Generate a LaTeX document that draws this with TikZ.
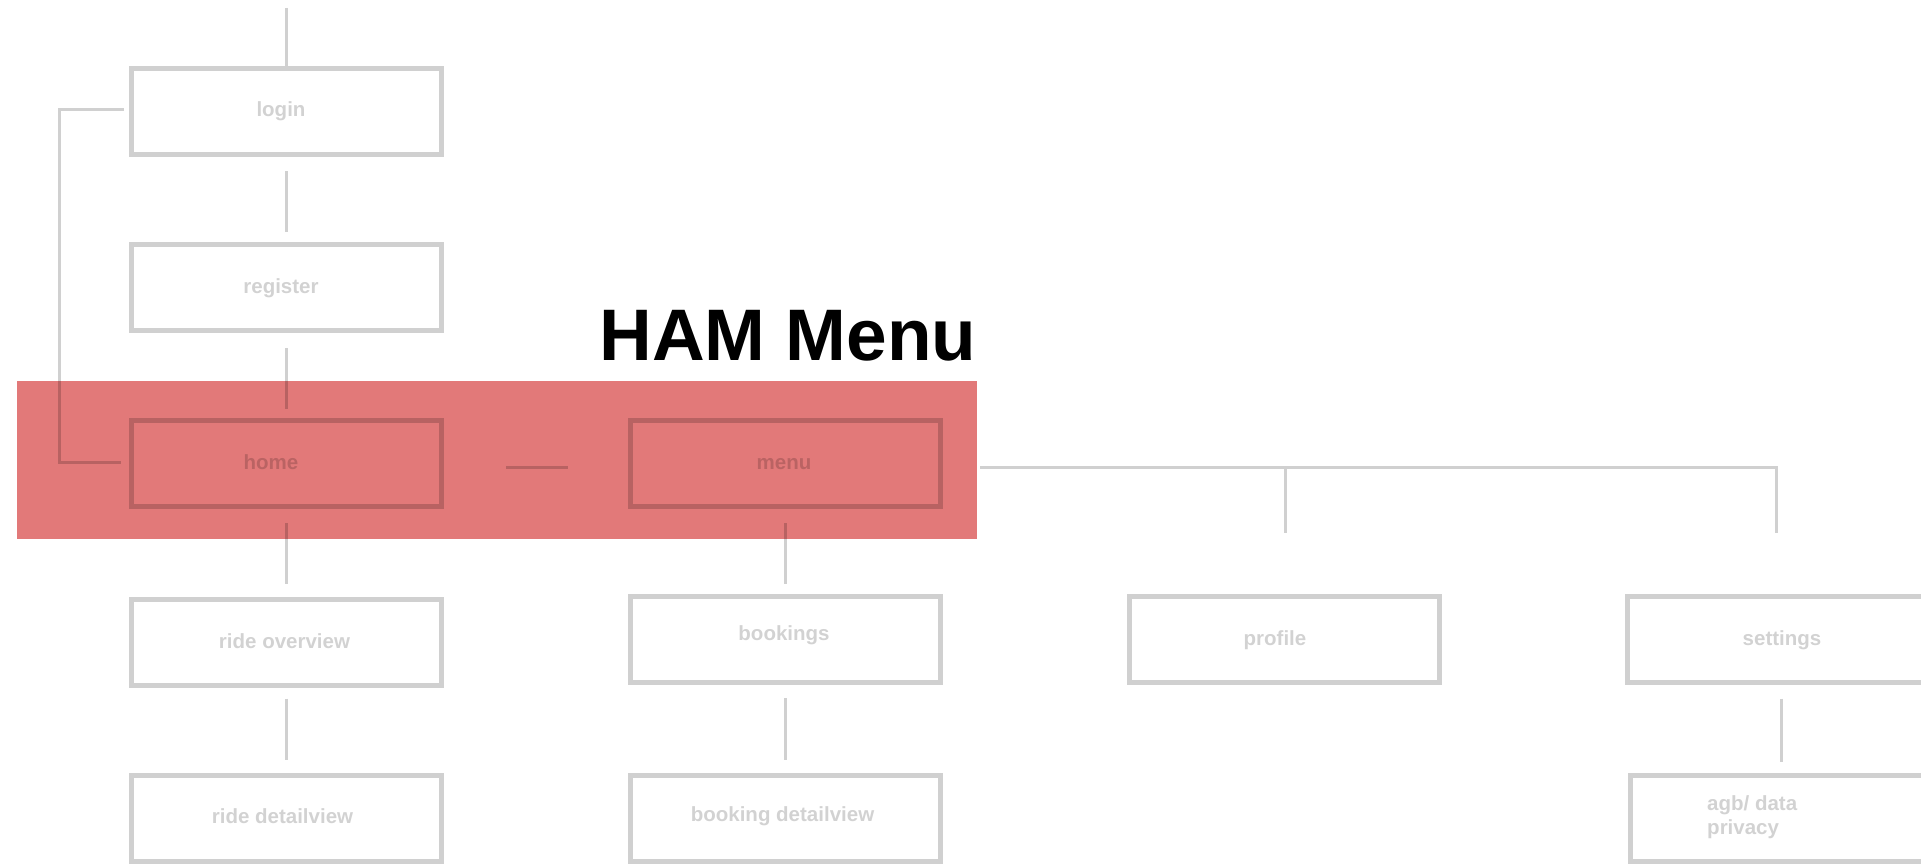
\documentclass[tikz,border=0pt]{standalone}
\usepackage{fontspec}
\setmainfont{Liberation Sans}
\definecolor{strokegray}{RGB}{208,208,208}
\definecolor{textgray}{RGB}{210,210,210}
\definecolor{bandred}{RGB}{226,121,121}
\begin{document}
\begin{tikzpicture}[x=1pt,y=-1pt,
  box/.style={draw=strokegray, line width=5pt, minimum width=310pt, minimum height=86pt, inner sep=0pt},
  lbl/.style={text=textgray, font=\fontsize{20.5}{24}\selectfont\bfseries, anchor=base, inner sep=0pt},
  conn/.style={draw=strokegray, line width=3pt},
  title/.style={font=\fontsize{73}{80}\selectfont\bfseries, text=black, anchor=base, inner sep=0pt}]
\useasboundingbox (0,0) rectangle (1921,864);
\clip (0,0) rectangle (1921,864);

% boxes
\node[box] (login)    at (286.5,111.5) {};
\node[box] (register) at (286.5,287.5) {};
\node[box] (home)     at (286.5,463.5) {};
\node[box] (rideov)   at (286.5,642.5) {};
\node[box] (ridedv)   at (286.5,818.5) {};
\node[box] (menu)     at (785.5,463.5) {};
\node[box] (bookings) at (785.5,639.5) {};
\node[box] (bookdv)   at (785.5,818.5) {};
\node[box] (profile)  at (1284,639.5) {};
\node[box] (settings) at (1782.5,639.5) {};
\node[box] (agb)      at (1785.5,818.5) {};

% labels
\node[lbl] (logint)    at (281,117) {login};
\node[lbl] (registert) at (281,293) {register};
\node[lbl] (homet)     at (271,469) {home};
\node[lbl] (rideovt)   at (284.5,648) {ride overview};
\node[lbl] (ridedvt)   at (282.5,823) {ride detailview};
\node[lbl] (menut)     at (784,469) {menu};
\node[lbl] (bookingst) at (784,640) {bookings};
\node[lbl] (bookdvt)   at (782.5,821) {booking detailview};
\node[lbl] (profilet)  at (1275,645) {profile};
\node[lbl] (settingst) at (1782,645) {settings};
\node[lbl, anchor=north west, align=left] (agbt) at (1707,795.5) {agb/ data\\privacy};

% title
\node[title] (hamtitle) at (788,360) {HAM Menu};

% connectors
\coordinate (topend) at (286.5,8);
\draw[conn, shorten >=-4pt] (topend) -- (login.north);
\draw[conn, shorten <=14pt, shorten >=10pt] (login.south) -- (register.north);
\draw[conn, shorten <=15pt, shorten >=9pt] (register.south) -- (home.north);
\draw[conn, shorten <=14pt, shorten >=13pt] (home.south) -- (rideov.north);
\draw[conn, shorten <=10.5pt, shorten >=13pt] (rideov.south) -- (ridedv.north);
\draw[conn, shorten <=14pt, shorten >=10pt] (menu.south) -- (bookings.north);
\draw[conn, shorten <=13pt, shorten >=13pt] (bookings.south) -- (bookdv.north);
\draw[conn, shorten <=13.5pt, shorten >=11pt] ([xshift=-1.5pt]settings.south) -- ([xshift=-4.5pt]agb.north);
\draw[conn, shorten <=62pt, shorten >=60pt] ([yshift=-3.5pt]home.east) -- ([yshift=-3.5pt]menu.west);
\draw[conn] ([xshift=-5pt,yshift=1.5pt]login.west) -- ++(-65,0) |- ([xshift=-8pt,yshift=1.5pt]home.west);
\coordinate (sd) at (1776,533);
\coordinate (pj) at (1285,467);
\coordinate (pd) at (1285,533);
\draw[conn, shorten <=37pt] ([yshift=-3.5pt]menu.east) -| (sd);
\draw[conn] (pj) -- (pd);

% highlight band
\begin{scope}[blend mode=multiply]
\fill[bandred] (17,381) rectangle (977,539);
\end{scope}
\end{tikzpicture}
\end{document}
